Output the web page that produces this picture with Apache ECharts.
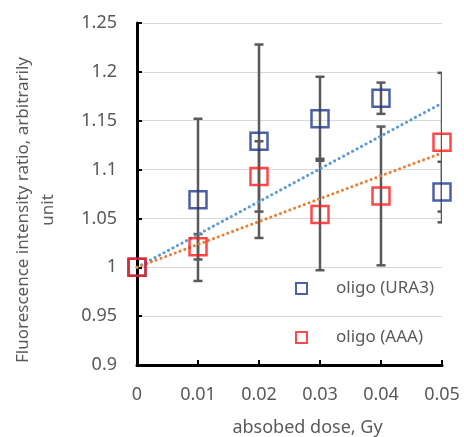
<!DOCTYPE html>
<html>
<head>
<meta charset="utf-8">
<script src="https://cdn.jsdelivr.net/npm/echarts@6/dist/echarts.min.js"></script>
<style>
  html, body { margin: 0; padding: 0; background: #fff; }
  #main { width: 464px; height: 437px; }
</style>
</head>
<body>
<div id="main"></div>
<script>
// data
var doses = [0, 0.01, 0.02, 0.03, 0.04, 0.05];
var ura3 = [1.0, 1.069, 1.129, 1.152, 1.173, 1.077];
var ura3Err = [0, 0.083, 0.099, 0.043, 0.016, 0.031];
var aaa = [1.0, 1.021, 1.093, 1.054, 1.073, 1.128];
var aaaErr = [0, 0.013, 0.036, 0.057, 0.071, 0.071];
var trendDoses = [0, 0.05];
var ura3Trend = [1.0, 1.168];
var aaaTrend = [1.0, 1.117];

var chart = echarts.init(document.getElementById('main'));
var font = 'Noto Sans';
var grey = '#595959';

function pairs(xs, ys) {
    return xs.map(function (x, i) { return [x, ys[i]]; });
}
function errRows(ys, errs) {
    var rows = [];
    doses.forEach(function (x, i) {
        if (errs[i] > 0) rows.push([x, ys[i] - errs[i], ys[i] + errs[i]]);
    });
    return rows;
}

function renderErr(params, api) {
    var lo = api.coord([api.value(0), api.value(1)]);
    var hi = api.coord([api.value(0), api.value(2)]);
    var w = 4.5;
    var style = { stroke: grey, lineWidth: 2.5 };
    return {
        type: 'group',
        children: [
            { type: 'line', shape: { x1: lo[0], y1: lo[1], x2: hi[0], y2: hi[1] }, style: style },
            { type: 'line', shape: { x1: lo[0] - w, y1: lo[1], x2: lo[0] + w, y2: lo[1] }, style: style },
            { type: 'line', shape: { x1: hi[0] - w, y1: hi[1], x2: hi[0] + w, y2: hi[1] }, style: style }
        ]
    };
}

var option = {
    animation: false,
    textStyle: { fontFamily: font },
    grid: { left: 137, right: 22, top: 23, bottom: 72, outerBoundsMode: 'none' },
    legend: {
        orient: 'vertical',
        left: 290,
        top: 275,
        itemWidth: 11,
        itemHeight: 11,
        itemGap: 32,
        data: ['oligo (URA3)', 'oligo (AAA)'],
        textStyle: { color: grey, fontSize: 17, fontFamily: font, padding: [0, 0, 0, 24] }
    },
    xAxis: {
        type: 'value',
        min: 0,
        max: 0.05,
        interval: 0.01,
        name: 'absobed dose, Gy',
        nameLocation: 'middle',
        nameGap: 54,
        nameTextStyle: { color: grey, fontSize: 18, padding: [0, 0, 0, 36] },
        axisLine: { lineStyle: { color: '#000', width: 3 } },
        axisTick: { inside: true, length: 5, lineStyle: { color: '#000', width: 2 } },
        axisLabel: { color: grey, fontSize: 18, margin: 21 },
        splitLine: { show: false }
    },
    yAxis: {
        type: 'value',
        min: 0.9,
        max: 1.25,
        interval: 0.05,
        name: 'Fluorescence intensity ratio, arbitrarily\nunit',
        nameLocation: 'middle',
        nameRotate: 90,
        nameGap: 76,
        nameTextStyle: { color: grey, fontSize: 17, lineHeight: 25, padding: [0, 32, 0, 0] },
        axisLine: { show: true, lineStyle: { color: '#000', width: 3 } },
        axisTick: { show: true, inside: true, length: 5, lineStyle: { color: '#000', width: 2 } },
        axisLabel: { color: grey, fontSize: 18, margin: 20 },
        splitLine: { lineStyle: { color: '#d9d9d9', width: 1 } }
    },
    series: [
        {
            name: 'err URA3',
            type: 'custom',
            renderItem: renderErr,
            clip: true,
            data: errRows(ura3, ura3Err),
            z: 1
        },
        {
            name: 'err AAA',
            type: 'custom',
            renderItem: renderErr,
            clip: true,
            data: errRows(aaa, aaaErr),
            z: 1
        },
        {
            name: 'trend URA3',
            type: 'line',
            data: pairs(trendDoses, ura3Trend),
            symbol: 'none',
            lineStyle: { color: '#5B9BD5', width: 3, type: [0.1, 5], cap: 'round' },
            z: 2
        },
        {
            name: 'trend AAA',
            type: 'line',
            data: pairs(trendDoses, aaaTrend),
            symbol: 'none',
            lineStyle: { color: '#ED7D31', width: 3, type: [0.1, 5], cap: 'round' },
            z: 2
        },
        {
            name: 'oligo (URA3)',
            type: 'scatter',
            symbol: 'rect',
            symbolSize: 17,
            data: pairs(doses, ura3),
            itemStyle: { color: 'transparent', borderColor: '#1F3A8C', borderWidth: 2.5 },
            clip: false,
            z: 3
        },
        {
            name: 'oligo (AAA)',
            type: 'scatter',
            symbol: 'rect',
            symbolSize: 17,
            data: pairs(doses, aaa),
            itemStyle: { color: 'transparent', borderColor: '#FF1A1A', borderWidth: 2.5 },
            clip: false,
            z: 4
        }
    ]
};

chart.setOption(option);
</script>
</body>
</html>
